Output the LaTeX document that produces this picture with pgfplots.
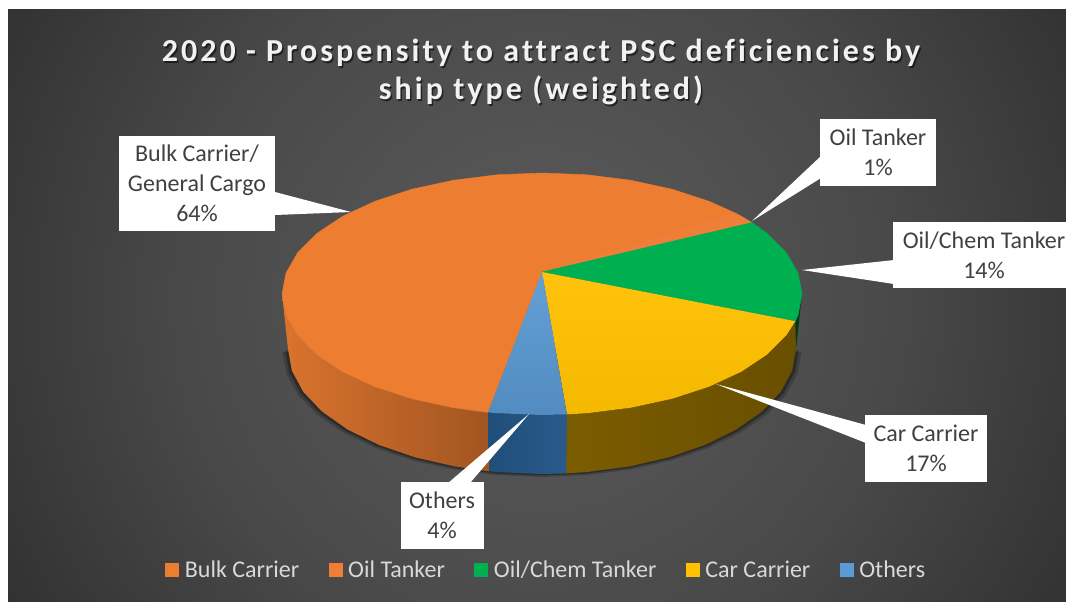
\documentclass[border=0pt]{standalone}
\usepackage{pgfplots}
\pgfplotsset{compat=1.18}
\usepackage{pgfplotstable}
\usepackage{fontspec}
\setmainfont{Carlito}
\newfontfamily\titlefont[LetterSpace=9.5,Ligatures=CommonOff]{Carlito}
\definecolor{cOrange}{HTML}{ED7D31}
\definecolor{cOil}{HTML}{EF7F38}
\definecolor{cGreen}{HTML}{00B050}
\definecolor{cYellow}{HTML}{FFC000}
\definecolor{cBlue}{HTML}{5B9BD5}
\definecolor{cBlueA}{HTML}{1F4E79}
\definecolor{cBlueB}{HTML}{2A5A8A}
\definecolor{cLabel}{HTML}{404040}
\definecolor{cLegend}{HTML}{D9D9D9}
\definecolor{cTitle}{HTML}{F2F2F2}
\pgfdeclareradialshading{chartbg}{\pgfpointorigin}{rgb(0bp)=(.36,.36,.36);rgb(14bp)=(.285,.285,.285);rgb(25bp)=(.185,.185,.185);rgb(29bp)=(.165,.165,.165);rgb(50bp)=(.165,.165,.165)}
\pgfplotstableread{
x y
796 349
792.1 370.7
780.7 391.8
762 411.5
736.6 429.4
705.3 444.8
669 457.3
628.9 466.5
586.1 472.1
542 474
497.9 472.1
455.1 466.5
415 457.3
378.7 444.8
347.4 429.4
322 411.5
303.3 391.8
291.9 370.7
288 349
}\rimtable
\pgfplotsset{part/.style={forget plot,line join=round,line width=.3pt}}
\begin{document}
\begin{tikzpicture}[x=1pt,y=1pt]
\clip (0,0) rectangle (799.5,450.75);
\fill[white] (0,0) rectangle (799.5,450.75);
\begin{scope}
\clip (6,0) rectangle (799.5,443.25);
\shade[shading=chartbg] (405,225.75) circle (480);
\end{scope}
\begin{axis}[
  at={(0,0)},anchor=south west,
  x=0.75pt,y=0.75pt,scale only axis,
  xmin=0,xmax=1066,ymin=0,ymax=601,y dir=reverse,
  hide axis,clip=false,
  legend image code/.code={\path[draw=none,fill=none] (0pt,0pt) rectangle (12.75pt,0pt);\fill[#1,draw=none] (0pt,-5.6pt) rectangle (10.5pt,5.6pt);},
  legend style={at={(axis cs:546.5,570)},anchor=center,draw=none,fill=none,
    legend columns=-1,font=\fontsize{18}{20}\selectfont,text=cLegend,inner sep=0pt,
    /tikz/every even column/.append style={column sep=20pt}},
]
\addlegendimage{fill=cOrange}\addlegendentry{Bulk Carrier}
\addlegendimage{fill=cOil}\addlegendentry{Oil Tanker}
\addlegendimage{fill=cGreen}\addlegendentry{Oil/Chem Tanker}
\addlegendimage{fill=cYellow}\addlegendentry{Car Carrier}
\addlegendimage{fill=cBlue}\addlegendentry{Others}

% soft shadow under the rim
\addplot[part,fill=black,draw=none,fill opacity=.2] table[x expr=542+(\thisrow{x}-542)*1.022,y expr=\thisrow{y}+3] {\rimtable} --cycle;
\addplot[part,fill=black,draw=none,fill opacity=.3] table[x expr=542+(\thisrow{x}-542)*1.011,y expr=\thisrow{y}+1.5] {\rimtable} --cycle;

% sides
\addplot[part,left color=cOrange!92!black,right color=cOrange!68!black,draw=none] coordinates {
(488,412.4)(453.1,407.7)(412,398.8)(374.9,386.7)(342.8,371.8)(316.8,354.5)(297.7,335.4)(286,315)(282,294)
(288,349)(291.9,370.7)(303.3,391.8)(322,411.5)(347.4,429.4)(378.7,444.8)(415,457.3)(455.1,466.5)(489.2,471.3)} --cycle;
\addplot[part,fill=black!20!cGreen!40!black,draw=none] coordinates {
(802,294)(798.1,315)(795.3,321.2)(794,345)(796,349)} --cycle;
\addplot[part,left color=cYellow!48!black,middle color=cYellow!41!black,right color=cYellow!41!black,draw=none] coordinates {
(566.9,414.4)(587.1,413.2)(630.9,407.7)(672,398.8)(709.1,386.7)(741.2,371.8)(767.2,354.5)(786.3,335.4)(795.3,321.2)
(796,349)(792.1,370.7)(780.7,391.8)(762,411.5)(736.6,429.4)(705.3,444.8)(669,457.3)(628.9,466.5)(586.1,472.1)(566.3,473.4)} --cycle;
\addplot[part,left color=cBlueA,right color=cBlueB,draw=none] coordinates {
(566.9,414.4)(542,415)(496.9,413.2)(488,412.4)(489.2,471.3)(497.9,472.1)(542,474)(566.3,473.4)} --cycle;

% top face
\addplot[part,fill=cOrange,draw=cOrange] coordinates {
(542,272)(488,412.4)(453.1,407.7)(412,398.8)(374.9,386.7)(342.8,371.8)(316.8,354.5)(297.7,335.4)(286,315)(282,294)
(286,273)(297.7,252.6)(316.8,233.5)(342.8,216.2)(374.9,201.3)(412,189.2)(453.1,180.3)(496.9,174.8)(542,173)
(587.1,174.8)(630.9,180.3)(672,189.2)(709.1,201.3)(735.2,213)} --cycle;
\addplot[part,fill=cOil,draw=cOil] coordinates {
(542,272)(735.2,213)(741.2,216.2)(752,222.6)} --cycle;
\addplot[part,fill=cGreen,draw=cGreen] coordinates {
(542,272)(752,222.6)(767.2,233.5)(786.3,252.6)(798.1,273)(802,294)(798.1,315)(795.3,321.2)} --cycle;
\addplot[part,top color=cYellow!95!white,bottom color=cYellow!96!black,draw=none] coordinates {
(542,272)(795.3,321.2)(786.3,335.4)(767.2,354.5)(741.2,371.8)(709.1,386.7)(672,398.8)(630.9,407.7)(587.1,413.2)(566.9,414.4)} --cycle;
\addplot[part,top color=cBlue!95!white,bottom color=cBlue!90!black,draw=none] coordinates {
(542,272)(566.9,414.4)(542,415)(496.9,413.2)(488,412.4)} --cycle;

% callouts
\fill[white] (axis cs:275,192) -- (axis cs:351,212) -- (axis cs:275,215) -- cycle;
\fill[white] (axis cs:821,156) -- (axis cs:752,221) -- (axis cs:821,178) -- cycle;
\fill[white] (axis cs:894,260) -- (axis cs:802,270) -- (axis cs:894,284) -- cycle;
\fill[white] (axis cs:866,425) -- (axis cs:716,384) -- (axis cs:866,443) -- cycle;
\fill[white] (axis cs:448,483) -- (axis cs:529,414) -- (axis cs:470,483) -- cycle;

% data labels
\tikzset{lab/.style={fill=white,text=cLabel,inner sep=0pt,align=center,font=\fontsize{18}{22.5}\selectfont}}
\node[lab,minimum width=117pt,minimum height=71.25pt] at (axis cs:197,183.5) {Bulk Carrier/\\General Cargo\\64\%};
\node[lab,minimum width=87pt,minimum height=50.25pt] at (axis cs:878,152.5) {Oil Tanker\\1\%};
\node[lab,minimum width=136.5pt,minimum height=49.5pt] at (axis cs:984,255) {Oil/Chem Tanker\\14\%};
\node[lab,minimum width=91.5pt,minimum height=50.25pt] at (axis cs:926,448.5) {Car Carrier\\17\%};
\node[lab,minimum width=62.25pt,minimum height=50.25pt] at (axis cs:442,515.5) {Others\\4\%};

% title
\tikzset{ttl/.style={align=center,font=\titlefont\bfseries\fontsize{24}{28.5}\selectfont}}
\node[ttl,text=black,opacity=.55] at (axis cs:542.5,73.5) {2020 - Prospensity to attract PSC deficiencies by\\ship type (weighted)};
\node[ttl,text=cTitle] at (axis cs:541,72) {2020 - Prospensity to attract PSC deficiencies by\\ship type (weighted)};
\end{axis}
\end{tikzpicture}
\end{document}
